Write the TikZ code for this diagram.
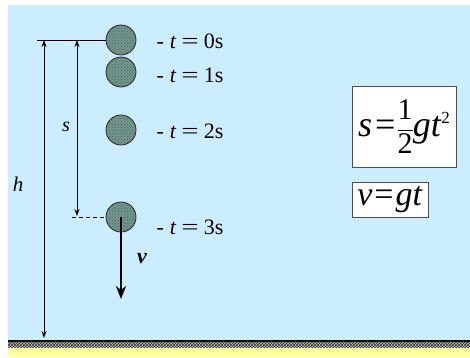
\documentclass[tikz,border=0pt]{standalone}
\usepackage{fontspec}
\setmainfont{Liberation Serif}
\usetikzlibrary{arrows.meta,patterns}
\definecolor{skyblue}{RGB}{204,236,255}
\definecolor{paleyellow}{RGB}{255,255,165}
\definecolor{balltone}{RGB}{112,152,142}
\newcommand{\tlabel}[1]{-\hspace{6pt}\textit{t}\hspace{5pt}\scalebox{1.4}[1]{=}\hspace{5pt}#1s}
\begin{document}
\begin{tikzpicture}[x=1pt, y=-1pt, >={Stealth[length=7pt,width=5pt]}, line width=1pt,
	ball/.style={circle, draw=black!85, line width=0.8pt, minimum size=30pt, inner sep=0pt, preaction={fill=balltone}, pattern=crosshatch dots, pattern color=black!65},
	timelabel/.style={anchor=west, inner sep=0pt, font=\fontsize{22}{24}\selectfont},
	formulabox/.style={draw=black!70, fill=white, line width=0.6pt, inner sep=0pt}]
	% 1. background, ground
	\useasboundingbox (0,0) rectangle (470,357);
	\fill[white] (0,0) rectangle (470,357);
	\fill[skyblue] (8,5) rectangle (470,340);
	\fill[paleyellow] (8,347) rectangle (470,357);
	\fill[gray!55] (8,341) rectangle (470,347);
	\fill[pattern=crosshatch, pattern color=black!80] (8,341) rectangle (470,347);
	\draw[line width=2pt] (8,341) -- (470,341);
	
	% 2. balls and times
	\node[ball] (ball0) at (121,40) {};
	\node[ball] (ball1) at (121,72) {};
	\node[ball] (ball2) at (121,130) {};
	\node[ball] (ball3) at (121,217) {};
	\node[timelabel] (time0) at (156,41) {\tlabel{0}};
	\node[timelabel] (time1) at (156,75) {\tlabel{1}};
	\node[timelabel] (time2) at (156,131) {\tlabel{2}};
	\node[timelabel] (time3) at (156,227) {\tlabel{3}};
	
	% 3. heights h and s
	\coordinate (startline) at (37,40);
	\coordinate (hTop) at (44,40);
	\coordinate (hBot) at (44,338);
	\coordinate (sTop) at (77,40);
	\coordinate (sBot) at (77,216);
	\coordinate (dashStart) at (72,217);
	\draw (startline) -- (ball0.west);
	\draw[<->] (hTop) -- (hBot);
	\draw[<->] (sTop) -- (sBot);
	\draw[dash pattern=on 4pt off 3pt] (dashStart) -- (ball3.west);
	\node[font=\fontsize{21}{22}\selectfont\itshape] (hlabel) at (18,184) {h};
	\node[font=\fontsize{20}{22}\selectfont\itshape] (slabel) at (66,127) {s};
	
	% 4. velocity
	\coordinate (vEnd) at (121,299);
	\draw[line width=2.2pt, -{Stealth[length=13pt,width=10pt]}] (ball3.center) -- (vEnd);
	\node[font=\fontsize{22}{24}\selectfont\bfseries\itshape] (vlabel) at (142,259) {v};
	
	% 5. formulas
	\node[formulabox, minimum width=104pt, minimum height=81pt] (sformula) at (404,126.5)
		{\fontsize{36}{40}\selectfont\textit{s}\hspace{3pt}=\hspace{1pt}$\displaystyle\frac{\mbox{\fontsize{30}{32}\selectfont 1}}{\mbox{\fontsize{30}{32}\selectfont 2}}$\hspace{-1pt}\textit{gt}\raisebox{13pt}{\fontsize{17}{18}\selectfont 2}};
	\node[formulabox, minimum width=76pt, minimum height=35pt] (vformula) at (390,199.5)
		{\fontsize{34}{36}\selectfont\textit{v}\hspace{2pt}=\hspace{2pt}\textit{gt}};
\end{tikzpicture}
\end{document}
